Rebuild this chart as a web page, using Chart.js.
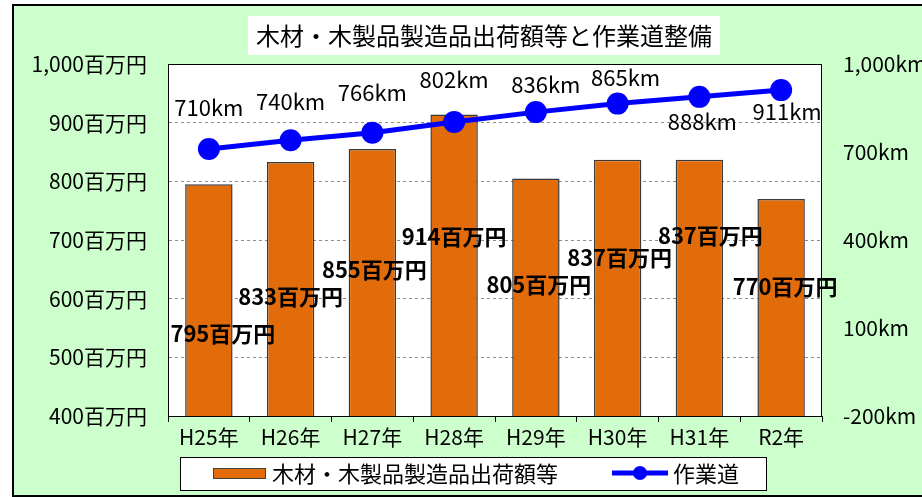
<!DOCTYPE html>
<html>
<head>
<meta charset="utf-8">
<script src="https://cdn.jsdelivr.net/npm/chart.js@4"></script>
<style>
  html, body { margin: 0; padding: 0; background: #fff; }
  #wrap { width: 922px; height: 497px; }
</style>
</head>
<body>
<div id="wrap"><canvas id="chart" width="922" height="497"></canvas></div>
<script>
const CATEGORIES = ["H25年", "H26年", "H27年", "H28年", "H29年", "H30年", "H31年", "R2年"];
const SHIPMENT = [795, 833, 855, 914, 805, 837, 837, 770];   // 百万円
const ROAD_KM = [710, 740, 766, 802, 836, 865, 888, 911];     // km
const LEFT_TICKS = [400, 500, 600, 700, 800, 900, 1000];
const RIGHT_TICKS = [-200, 100, 400, 700, 1000];

const TITLE = "木材・木製品製造品出荷額等と作業道整備";
const BAR_NAME = "木材・木製品製造品出荷額等";
const LINE_NAME = "作業道";

// label nudges (px) – where Excel happened to place them
const BAR_LABEL_DX = [14, 0, 2, 0, 3, 2, 11, 4];
const BAR_LABEL_DY = [149, 135, 121, 122, 106, 98, 76, 88];
const LINE_LABEL_DX = [0, 0, 0, 0, 10, 8, 3, 6];
const LINE_LABEL_DY = [-41, -39, -40, -42, -27, -26, 25, 22];

const FONT = "'Noto Sans CJK JP', 'Noto Sans', sans-serif";
const ORANGE = "#E36C0A";
const BLUE = "#0000FF";

const fmt = (v) => v.toLocaleString("en-US");

const frame = {
  id: "frame",
  beforeDraw(chart) {
    const { ctx, chartArea: a } = chart;
    ctx.save();
    ctx.fillStyle = "#fff";
    ctx.fillRect(0, 0, chart.width, chart.height);
    ctx.fillStyle = "#CCFFCC";
    ctx.fillRect(13, 5, 920, 491);
    ctx.strokeStyle = "#000";
    ctx.lineWidth = 2;
    ctx.strokeRect(13, 5, 920, 491);
    ctx.fillStyle = "#fff";
    ctx.fillRect(a.left, a.top, a.right - a.left, a.bottom - a.top);
    // title box
    ctx.fillRect(248, 16, 472, 39);
    ctx.fillStyle = "#000";
    ctx.font = "24px " + FONT;
    ctx.textAlign = "center";
    ctx.textBaseline = "middle";
    ctx.fillText(TITLE, 484, 36);
    // legend
    ctx.fillStyle = "#fff";
    ctx.fillRect(180, 457, 586, 33);
    ctx.lineWidth = 1;
    ctx.strokeRect(180.5, 457.5, 586, 33);
    ctx.fillStyle = ORANGE;
    ctx.fillRect(213, 468, 52, 10);
    ctx.strokeStyle = "#404040";
    ctx.strokeRect(213.5, 468.5, 52, 10);
    ctx.strokeStyle = BLUE;
    ctx.lineWidth = 5;
    ctx.beginPath();
    ctx.moveTo(612, 473);
    ctx.lineTo(668, 473);
    ctx.stroke();
    ctx.fillStyle = BLUE;
    ctx.beginPath();
    ctx.arc(640, 473, 7, 0, Math.PI * 2);
    ctx.fill();
    ctx.fillStyle = "#000";
    ctx.font = "22px " + FONT;
    ctx.textAlign = "left";
    ctx.fillText(BAR_NAME, 272, 474);
    ctx.fillText(LINE_NAME, 673, 474);
    ctx.restore();
  },
  afterDatasetsDraw(chart) {
    const { ctx, chartArea: a } = chart;
    ctx.save();
    ctx.strokeStyle = "#000";
    ctx.lineWidth = 1;
    ctx.strokeRect(a.left + 0.5, a.top + 0.5, a.right - a.left - 1, a.bottom - a.top);
    ctx.textAlign = "center";
    ctx.textBaseline = "middle";
    ctx.fillStyle = "#000";
    ctx.font = "bold 22px " + FONT;
    chart.getDatasetMeta(1).data.forEach((bar, i) => {
      ctx.fillText(SHIPMENT[i] + "百万円", bar.x + BAR_LABEL_DX[i], bar.y + BAR_LABEL_DY[i]);
    });
    ctx.font = "22px " + FONT;
    chart.getDatasetMeta(0).data.forEach((pt, i) => {
      ctx.fillText(ROAD_KM[i] + "km", pt.x + LINE_LABEL_DX[i], pt.y + LINE_LABEL_DY[i]);
    });
    ctx.restore();
  }
};

new Chart(document.getElementById("chart"), {
  data: {
    labels: CATEGORIES,
    datasets: [
      {
        type: "line",
        label: LINE_NAME,
        data: ROAD_KM,
        yAxisID: "y1",
        borderColor: BLUE,
        backgroundColor: BLUE,
        borderWidth: 5,
        pointRadius: 11,
        pointHoverRadius: 11,
        pointBorderWidth: 0,
        tension: 0,
        order: 0
      },
      {
        type: "bar",
        label: BAR_NAME,
        data: SHIPMENT,
        yAxisID: "y",
        backgroundColor: ORANGE,
        borderColor: "#3a3a3a",
        borderWidth: 1.5,
        categoryPercentage: 1,
        barPercentage: 0.58,
        order: 1
      }
    ]
  },
  options: {
    responsive: false,
    animation: false,
    layout: { padding: { left: 0, right: 0, top: 64, bottom: 0 } },
    plugins: { legend: { display: false }, title: { display: false }, tooltip: { enabled: false } },
    scales: {
      x: {
        offset: true,
        grid: { offset: true, drawOnChartArea: false, drawTicks: true, tickLength: 6, color: "#000" },
        border: { display: false },
        ticks: { color: "#000", font: { family: FONT, size: 21 }, padding: 2, maxRotation: 0 },
        afterFit(s) { s.height = 81; }
      },
      y: {
        position: "left",
        min: 400,
        max: 1000,
        afterBuildTicks(s) { s.ticks = LEFT_TICKS.map((v) => ({ value: v })); },
        grid: { color: "#8c8c8c", drawTicks: false, lineWidth: 1 },
        border: { display: true, color: "rgba(0,0,0,0)", dash: [3, 3] },
        ticks: { color: "#000", font: { family: FONT, size: 21 }, padding: 21, callback: (v) => fmt(v) + "百万円" },
        afterFit(s) { s.width = 168; }
      },
      y1: {
        position: "right",
        min: -200,
        max: 1000,
        afterBuildTicks(s) { s.ticks = RIGHT_TICKS.map((v) => ({ value: v })); },
        grid: { drawOnChartArea: false, drawTicks: false },
        border: { display: false },
        ticks: { color: "#000", font: { family: FONT, size: 21 }, padding: 21, callback: (v) => fmt(v) + "km" },
        afterFit(s) { s.width = 100; }
      }
    }
  },
  plugins: [frame]
});
</script>
</body>
</html>
